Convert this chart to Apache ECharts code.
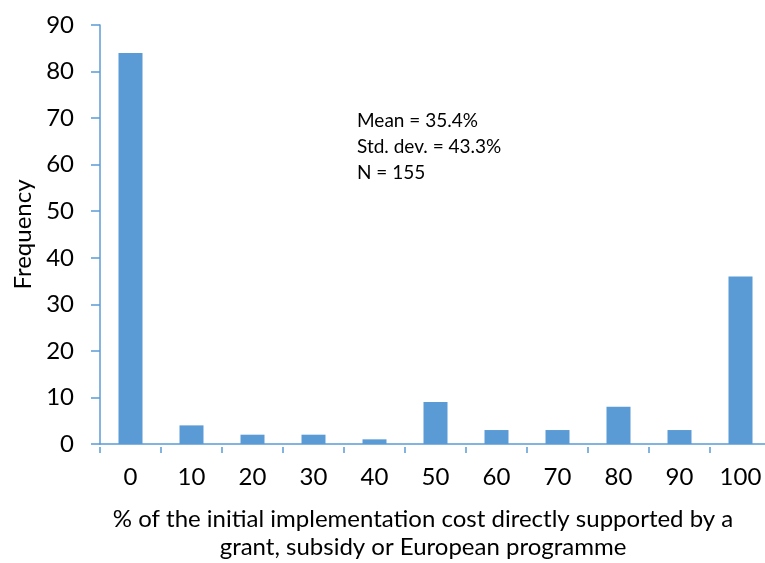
<!DOCTYPE html>
<html>
<head>
<meta charset="utf-8">
<script src="https://cdn.jsdelivr.net/npm/echarts@6/dist/echarts.min.js"></script>
<style>
html,body{margin:0;padding:0;background:#fff;}
#chart{width:765px;height:563px;}
</style>
</head>
<body>
<div id="chart"></div>
<script>
var categories = ['0','10','20','30','40','50','60','70','80','90','100'];
var frequency = [84, 4, 2, 2, 1, 9, 3, 3, 8, 3, 36];
var yTicks = {min: 0, max: 90, interval: 10};
var statsLines = ['Mean = 35.4%', 'Std. dev. = 43.3%', 'N = 155'];
var xTitle = '% of the initial implementation cost directly supported by a\ngrant, subsidy or European programme';
var yTitle = 'Frequency';

var FONT = 'Lato, "Open Sans", sans-serif';
var BLUE = '#5B9BD5';

var chart = echarts.init(document.getElementById('chart'), null, {renderer: 'canvas'});
chart.setOption({
  animation: false,
  backgroundColor: '#fff',
  grid: {left: 100, top: 25, width: 671, height: 419, containLabel: false, outerBoundsMode: 'none'},
  xAxis: [{
    type: 'category',
    data: categories,
    boundaryGap: true,
    axisLine: {show: true, lineStyle: {color: BLUE, width: 1.5}},
    axisTick: {show: false},
    axisLabel: {color: '#000', fontSize: 24, fontFamily: FONT, margin: 21},
    name: xTitle,
    nameLocation: 'middle',
    nameGap: 61,
    nameTextStyle: {color: '#000', fontSize: 24, fontFamily: FONT, lineHeight: 28, padding: [0, 25, 0, 0]}
  }, {
    type: 'category',
    data: categories,
    position: 'bottom',
    offset: 3,
    boundaryGap: true,
    axisLine: {show: false},
    axisTick: {show: true, length: 6, lineStyle: {color: BLUE, width: 1.5}},
    axisLabel: {show: false}
  }],
  yAxis: {
    type: 'value',
    min: yTicks.min,
    max: yTicks.max,
    interval: yTicks.interval,
    axisLine: {show: true, lineStyle: {color: BLUE, width: 1.5}},
    axisTick: {show: true, inside: false, length: 9, lineStyle: {color: BLUE, width: 1.5}},
    splitLine: {show: false},
    axisLabel: {color: '#000', fontSize: 24, fontFamily: FONT, margin: 26},
    name: yTitle,
    nameLocation: 'middle',
    nameGap: 63,
    nameTextStyle: {color: '#000', fontSize: 24, fontFamily: FONT}
  },
  series: [{
    type: 'bar',
    xAxisIndex: 0,
    data: frequency,
    barWidth: 24,
    itemStyle: {color: BLUE}
  }],
  graphic: [{
    type: 'text',
    left: 357,
    top: 108,
    style: {
      text: statsLines.join('\n'),
      font: '19px ' + FONT,
      lineHeight: 26,
      fill: '#000'
    }
  }]
});
</script>
</body>
</html>
